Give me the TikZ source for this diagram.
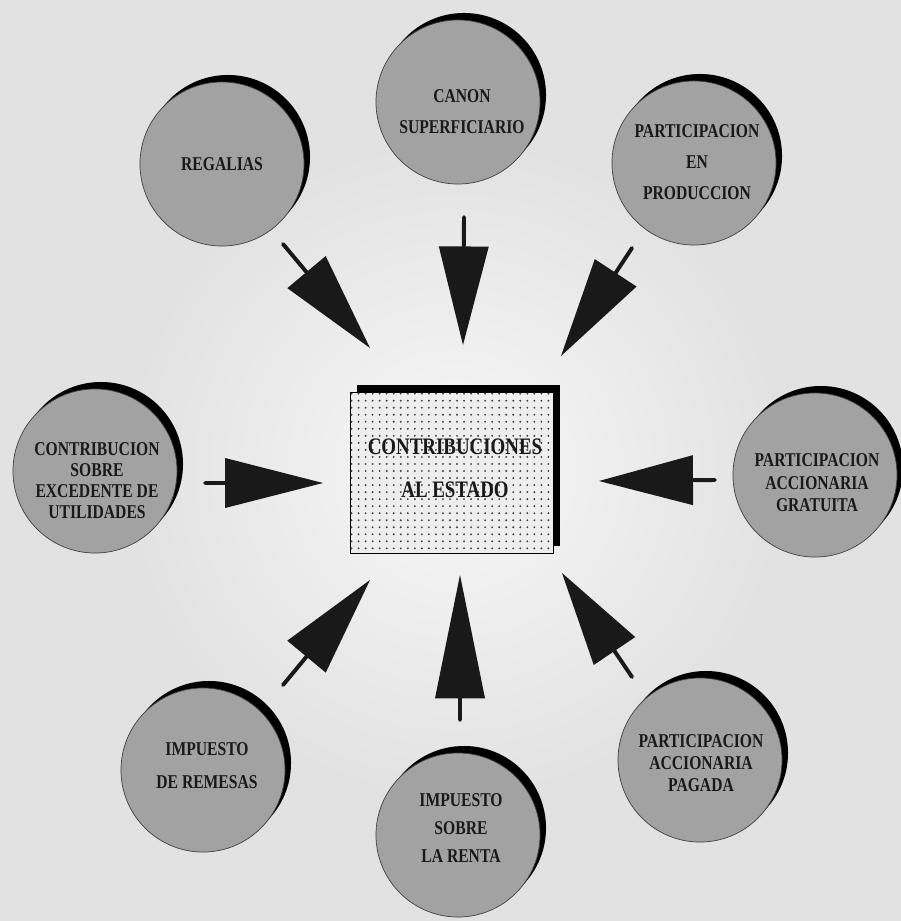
\documentclass[tikz,border=0pt]{standalone}
\usepackage{fontspec}
\newfontfamily\lblfont[FakeStretch=0.8]{Liberation Serif}
\usetikzlibrary{calc,patterns.meta}
\definecolor{bgc}{RGB}{226,226,226}
\definecolor{circc}{RGB}{162,162,162}
\definecolor{boxc}{RGB}{238,238,238}
\definecolor{inkc}{RGB}{25,25,25}
\newcommand{\cfont}[1]{\lblfont\bfseries\fontsize{13.9}{#1}\selectfont}
\newcommand{\dart}[3]{%
  \coordinate (db) at ($(#1)!#3!(#2)$);
  \draw[stemline] (#1) -- (db);
  \fill[inkc] ($(db)!0.625cm!90:(#2)$) -- (#2) -- ($(db)!0.625cm!-90:(#2)$) -- cycle;}
\begin{document}
\begin{tikzpicture}[x=0.025cm,y=-0.025cm,
  circnode/.style={circle,fill=circc,draw=black!75,line width=0.5pt,minimum size=4.1cm,inner sep=0pt},
  shadownode/.style={circle,fill=black,minimum size=4.1cm,inner sep=0pt},
  lbl/.style={align=center,inner sep=0pt,text=inkc},
  stemline/.style={draw=inkc,line width=2.8pt,line cap=round},
  boxshadow/.style={rectangle,fill=black,minimum width=5.075cm,minimum height=4.025cm,inner sep=0pt},
  boxnode/.style={rectangle,draw=black,line width=0.6pt,fill=boxc,
    postaction={pattern={Dots[radius=0.75pt,distance=5pt]},pattern color=black!75},
    minimum width=5.075cm,minimum height=4.025cm,inner sep=0pt}]
\useasboundingbox (0,0) rectangle (901,921);
\fill[bgc] (0,0) rectangle (901,921);
\shade[inner color=white!97!black,outer color=bgc] (455,470) circle[radius=330];

% circles: shadows then discs
\node[shadownode] (s-reg) at (228,157) {};
\node[circnode] (c-reg) at (222,164) {};
\node[shadownode] (s-can) at (464,95) {};
\node[circnode] (c-can) at (458,102) {};
\node[shadownode] (s-pro) at (700,156) {};
\node[circnode] (c-pro) at (694,163) {};
\node[shadownode] (s-con) at (101,464) {};
\node[circnode] (c-con) at (95,471) {};
\node[shadownode] (s-gra) at (821,468) {};
\node[circnode] (c-gra) at (815,475) {};
\node[shadownode] (s-rem) at (209,763) {};
\node[circnode] (c-rem) at (203,770) {};
\node[shadownode] (s-ren) at (464,828) {};
\node[circnode] (c-ren) at (458,835) {};
\node[shadownode] (s-pag) at (706,753) {};
\node[circnode] (c-pag) at (700,760) {};

% circle texts
\node[lbl,font=\cfont{17pt}] (t-reg) at (222,164) {REGALIAS};
\node[lbl,font=\cfont{22pt}] (t-can) at (462,112) {CANON\\SUPERFICIARIO};
\node[lbl,font=\cfont{22.3pt}] (t-pro) at (697,162) {PARTICIPACION\\EN\\PRODUCCION};
\node[lbl,font=\cfont{14.9pt}] (t-con) at (97,481) {CONTRIBUCION\\SOBRE\\EXCEDENTE DE\\UTILIDADES};
\node[lbl,font=\cfont{16pt}] (t-gra) at (817,483) {PARTICIPACION\\ACCIONARIA\\GRATUITA};
\node[lbl,font=\cfont{23.4pt}] (t-rem) at (207,766) {IMPUESTO\\DE REMESAS};
\node[lbl,font=\cfont{20.2pt}] (t-ren) at (461,828) {IMPUESTO\\SOBRE\\LA RENTA};
\node[lbl,font=\cfont{15.6pt}] (t-pag) at (701,763) {PARTICIPACION\\ACCIONARIA\\PAGADA};

% central box
\node[boxshadow] (box-s) at (458.5,465.5) {};
\node[boxnode] (box) at (451.5,472.5) {};
\node[lbl,font=\lblfont\bfseries\fontsize{16.8}{30.5}\selectfont] (t-box) at (455,468) {CONTRIBUCIONES\\AL ESTADO};

% arrows
\coordinate (a1) at (283,244); \coordinate (b1) at (370,348);
\coordinate (a2) at (464,217); \coordinate (b2) at (463,345);
\coordinate (a3) at (632,248); \coordinate (b3) at (561,356);
\coordinate (a4) at (205,483); \coordinate (b4) at (323,483);
\coordinate (a5) at (715,480); \coordinate (b5) at (599,481);
\coordinate (a6) at (283,685); \coordinate (b6) at (370,580);
\coordinate (a7) at (460,720); \coordinate (b7) at (460,575);
\coordinate (a8) at (632,677); \coordinate (b8) at (562,573);
\dart{a1}{b1}{0.27}
\dart{a2}{b2}{0.23}
\dart{a3}{b3}{0.23}
\dart{a4}{b4}{0.17}
\dart{a5}{b5}{0.19}
\dart{a6}{b6}{0.27}
\dart{a7}{b7}{0.15}
\dart{a8}{b8}{0.25}
\end{tikzpicture}
\end{document}
